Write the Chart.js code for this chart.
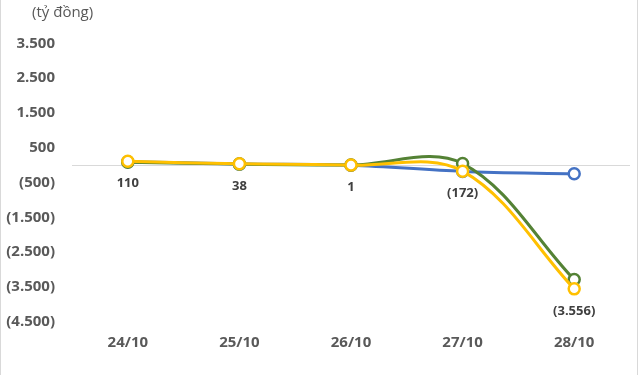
<!DOCTYPE html>
<html>
<head>
<meta charset="utf-8">
<script src="https://cdn.jsdelivr.net/npm/chart.js@4"></script>
<style>
html,body{margin:0;padding:0;background:#fff;}
#wrap{position:relative;width:640px;height:375px;}
canvas{display:block;}
</style>
</head>
<body>
<div id="wrap"><canvas id="c" width="640" height="375"></canvas></div>
<script>
const categories = ['24/10', '25/10', '26/10', '27/10', '28/10'];
const seriesBlue = [100, 35, 0, -180, -250];
const seriesGreen = [85, 30, 5, 45, -3290];
const seriesYellow = [110, 38, 1, -172, -3556];
const yTickValues = [-4500, -3500, -2500, -1500, -500, 0, 500, 1500, 2500, 3500];
const unitLabel = '(tỷ đồng)';

function fmt(v) {
  const s = Math.abs(v).toString().replace(/\B(?=(\d{3})+(?!\d))/g, '.');
  return v < 0 ? '(' + s + ')' : s;
}

const extras = {
  id: 'extras',
  beforeDraw(chart) {
    const ctx = chart.ctx;
    ctx.save();
    ctx.strokeStyle = '#d9d9d9';
    ctx.lineWidth = 1;
    ctx.beginPath();
    ctx.moveTo(0.5, 0); ctx.lineTo(0.5, 375);
    ctx.moveTo(637.5, 0); ctx.lineTo(637.5, 375);
    ctx.stroke();
    ctx.fillStyle = '#595959';
    ctx.font = '15px "Open Sans"';
    ctx.textAlign = 'left';
    ctx.textBaseline = 'middle';
    ctx.fillText(unitLabel, 32, 13);
    ctx.restore();
  },
  afterDatasetsDraw(chart) {
    const ctx = chart.ctx;
    const xs = chart.scales.x, ys = chart.scales.y;
    ctx.save();
    ctx.fillStyle = '#404040';
    ctx.font = 'bold 13px "Open Sans"';
    ctx.textAlign = 'center';
    ctx.textBaseline = 'middle';
    seriesYellow.forEach((v, i) => {
      const x = xs.getPixelForValue(i);
      const y = ys.getPixelForValue(v);
      ctx.fillText(fmt(v), x, y + 22);
    });
    ctx.restore();
  }
};

function ds(label, data, color) {
  return {
    label, data,
    borderColor: color,
    backgroundColor: '#ffffff',
    borderWidth: 3,
    pointRadius: 5.5,
    pointBorderWidth: 2.5,
    pointBackgroundColor: '#ffffff',
    pointBorderColor: color,
    tension: 0.35,
    fill: false
  };
}

new Chart(document.getElementById('c'), {
  type: 'line',
  data: {
    labels: categories,
    datasets: [
      ds('Yellow', seriesYellow, '#FFC000'),
      ds('Green', seriesGreen, '#548235'),
      ds('Blue', seriesBlue, '#4472C4')
    ]
  },
  options: {
    responsive: false,
    animation: false,
    layout: { padding: { top: 25.5, right: 10, left: 0, bottom: 0 } },
    plugins: { legend: { display: false }, tooltip: { enabled: false }, title: { display: false } },
    scales: {
      x: {
        offset: true,
        grid: { display: false, drawTicks: false },
        border: { display: false },
        ticks: { color: '#595959', font: { family: 'Open Sans', size: 15, weight: 'bold' }, padding: 12 },
        afterFit(s) { s.height = 53.3; }
      },
      y: {
        min: -4500,
        max: 4000,
        afterBuildTicks(s) { s.ticks = yTickValues.map(v => ({ value: v })); },
        grid: {
          drawTicks: false,
          color: (c) => (c.tick && c.tick.value === 0) ? '#d9d9d9' : 'rgba(0,0,0,0)',
          lineWidth: 1
        },
        border: { display: false },
        ticks: {
          color: '#595959',
          font: { family: 'Open Sans', size: 15, weight: 'bold' },
          padding: 17,
          callback: (v) => v === 0 ? '' : fmt(v)
        },
        afterFit(s) { s.width = 72; }
      }
    }
  },
  plugins: [extras]
});
</script>
</body>
</html>
